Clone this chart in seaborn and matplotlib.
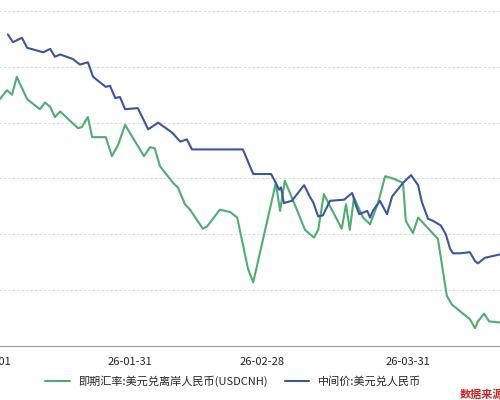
import numpy as np
import pandas as pd
import seaborn as sns
import matplotlib.pyplot as plt
import matplotlib.dates as mdates

# day offsets from 2026-01-01 and values
mid_days = [4.0, 5.1, 7.0, 8.1, 11.5, 13.0, 14.0, 15.1, 17.8, 19.3, 21.0, 22.1, 24.8, 25.7, 26.8,
            27.8, 28.9, 31.6, 33.8, 35.9, 38.9, 40.6, 42.0, 43.1, 53.9, 56.1, 59.9, 60.9, 61.6,
            62.0, 62.6, 64.3, 66.9, 68.2, 68.8, 69.9, 70.9, 72.4, 75.4, 77.1, 77.9, 78.6, 80.3,
            80.9, 81.5, 83.0, 84.5, 85.6, 87.9, 89.6, 91.1, 91.9, 93.2, 94.3, 95.9, 97.0, 97.9,
            98.5, 100.0, 102.1, 103.2, 103.8, 105.3, 108.5]
mid_vals = [7.029, 7.022, 7.026, 7.017, 7.013, 7.016, 7.009, 7.011, 7.007, 7.002, 7.004, 6.991,
            6.982, 6.983, 6.972, 6.973, 6.962, 6.963, 6.944, 6.950, 6.941, 6.933, 6.935, 6.926,
            6.926, 6.904, 6.904, 6.896, 6.890, 6.892, 6.878, 6.880, 6.894, 6.883, 6.879, 6.866,
            6.867, 6.880, 6.881, 6.887, 6.876, 6.868, 6.871, 6.865, 6.871, 6.880, 6.868, 6.884,
            6.896, 6.903, 6.894, 6.879, 6.864, 6.862, 6.858, 6.850, 6.837, 6.833, 6.833, 6.834,
            6.826, 6.824, 6.829, 6.832]

cnh_days = [2.3, 3.8, 4.9, 5.9, 7.0, 8.1, 10.8, 11.9, 13.0, 14.0, 15.1, 18.9, 19.7, 21.0, 21.9,
            24.8, 26.1, 27.4, 28.9, 32.9, 34.2, 35.2, 36.3, 39.1, 40.1, 41.6, 42.7, 45.4, 46.3,
            49.0, 51.2, 52.7, 55.0, 56.1, 60.9, 61.8, 62.8, 64.3, 67.1, 69.0, 69.9, 71.1, 72.8,
            74.9, 75.8, 76.6, 77.5, 79.4, 80.9, 82.6, 84.1, 85.8, 87.9, 88.5, 90.0, 91.1, 95.3,
            97.2, 98.3, 102.1, 103.2, 103.8, 105.1, 106.2, 108.5]
cnh_vals = [6.971, 6.979, 6.975, 6.991, 6.981, 6.971, 6.962, 6.968, 6.964, 6.955, 6.960, 6.945,
            6.946, 6.955, 6.937, 6.937, 6.920, 6.930, 6.948, 6.920, 6.928, 6.927, 6.911, 6.896,
            6.892, 6.877, 6.872, 6.855, 6.857, 6.872, 6.870, 6.865, 6.819, 6.807, 6.896, 6.871,
            6.898, 6.883, 6.854, 6.847, 6.854, 6.886, 6.872, 6.855, 6.877, 6.854, 6.883, 6.865,
            6.859, 6.878, 6.902, 6.900, 6.896, 6.862, 6.851, 6.865, 6.846, 6.795, 6.787, 6.774,
            6.766, 6.772, 6.779, 6.772, 6.771]

tick_dates = ['2026-01-01', '2026-01-31', '2026-02-28', '2026-03-31']
grid_vals = [6.80, 6.85, 6.90, 6.95, 7.00, 7.05]

cnh_name = '即期汇率:美元兑离岸人民币(USDCNH)'
mid_name = '中间价:美元兑人民币'

start = pd.Timestamp('2026-01-01')
df = pd.concat([
    pd.DataFrame({'date': start + pd.to_timedelta(cnh_days, unit='D'), 'val': cnh_vals, 's': cnh_name}),
    pd.DataFrame({'date': start + pd.to_timedelta(mid_days, unit='D'), 'val': mid_vals, 's': mid_name}),
])

sns.set_style('white')
plt.rcParams['font.family'] = ['Noto Sans CJK SC', 'DejaVu Sans']

fig = plt.figure(figsize=(5, 4), dpi=100)
ax = fig.add_axes([-0.05, 0.135, 1.1, 0.865])
sns.lineplot(data=df, x='date', y='val', hue='s', palette=['#4fad72', '#3b55a0'],
             linewidth=1.5, ax=ax, sort=False)

ax.set_xlim(start + pd.Timedelta(days=-2.97), start + pd.Timedelta(days=113.8))
ax.set_ylim(6.75, 7.0598)
ax.set_yticks(grid_vals)
ax.yaxis.grid(True, color='#d8d8d8', linestyle=(0, (2, 2)), linewidth=0.8)
ax.tick_params(axis='y', left=False, labelleft=False)
ax.set_xticks(pd.to_datetime(tick_dates))
ax.xaxis.set_major_formatter(mdates.DateFormatter('%y-%m-%d'))
ax.tick_params(axis='x', length=4, color='#999999', labelsize=8, pad=4)
for s in ['top', 'left', 'right']:
    ax.spines[s].set_visible(False)
ax.spines['bottom'].set_color('#999999')
ax.set_xlabel('')
ax.set_ylabel('')
ax.legend(loc='upper center', bbox_to_anchor=(0.47, -0.055), ncol=2, frameon=False,
          fontsize=8, handlelength=2.2, columnspacing=1.5)

fig.text(0.92, 0.005, '数据来源：Wind', color='#cc2222', fontsize=8, fontweight='bold')

fig.savefig('out.png', dpi=100)
